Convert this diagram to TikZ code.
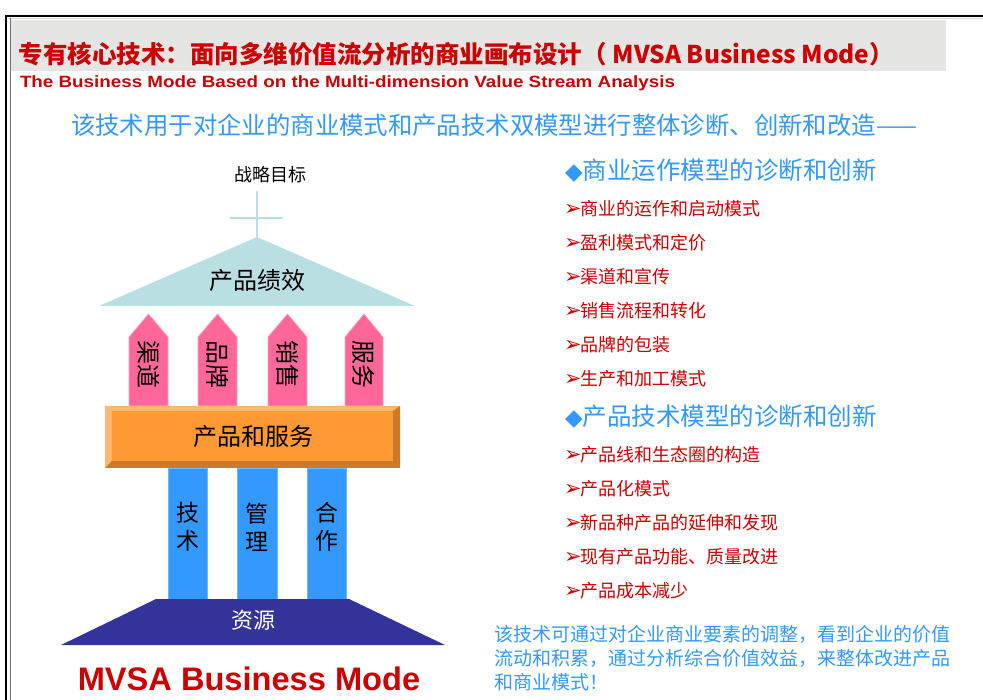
\documentclass[tikz,border=0pt]{standalone}
\usepackage{fontspec}
\newfontfamily\cjk{Noto Sans CJK SC}
\newfontfamily\lib{Liberation Sans}
\newfontfamily\dej{DejaVu Sans}
\definecolor{tred}{HTML}{CC0000}
\definecolor{tblue}{HTML}{3399FF}
\definecolor{roofc}{HTML}{B9DFE3}
\definecolor{pinkc}{HTML}{FF6699}
\definecolor{orangec}{HTML}{FF9933}
\definecolor{orangel}{HTML}{FFB870}
\definecolor{oranged}{HTML}{CC7A29}
\definecolor{navyc}{HTML}{333399}
\definecolor{grayboxc}{HTML}{E5E5E3}
\tikzset{
  txt/.style={inner sep=0pt, outer sep=0pt},
  pinkarrow/.style={fill=pinkc, draw=pinkc!60, line width=0.8pt},
  pillar/.style={fill=tblue, draw=tblue!70, line width=0.6pt},
  item/.style={txt, anchor=west, text=tred, font=\cjk\fontsize{18}{18}\selectfont},
  head/.style={txt, anchor=west, text=tblue, font=\cjk\fontsize{24.5}{24.5}\selectfont},
  archtext/.style={txt, text=black, font=\cjk\fontsize{23}{23}\selectfont},
}
\newcommand{\bul}{{\dej\fontsize{21}{21}\selectfont ➢}}
\newcommand{\dia}{{\dej\fontsize{23}{23}\selectfont ◆}}
\begin{document}
\begin{tikzpicture}[x=1pt,y=-1pt]
\useasboundingbox (0,0) rectangle (983,700);
% frame
\fill[grayboxc] (11,20) rectangle (946,71);
\draw[black, line width=2.5pt] (5,16) -- (983,16);
\draw[black!15, line width=0.6pt] (8,18.5) -- (983,18.5);
\draw[black, line width=2pt] (6,15) -- (6,700);
\draw[black!55, line width=1.2pt] (10.5,18) -- (10.5,700);
% title
\node[txt, anchor=west, text=tred, font=\cjk\bfseries\fontsize{24.5}{24.5}\selectfont] (title) at (19,54) {专有核心技术：面向多维价值流分析的商业画布设计（ MVSA Business Mode）};
\node[txt, anchor=base west, text=tred, font=\lib\bfseries\fontsize{16}{16}\selectfont] (subtitle) at (20,87.5) {\scalebox{1.175}[1.02]{The Business Mode Based on the Multi-dimension Value Stream Analysis}};
\node[txt, anchor=west, text=tblue, font=\cjk\fontsize{24.4}{24.4}\selectfont] (intro) at (71,125) {该技术用于对企业的商业模式和产品技术双模型进行整体诊断、创新和改造——};
% house diagram
\node[txt, text=black, font=\cjk\fontsize{18}{18}\selectfont] (goal) at (270,175) {战略目标};
\coordinate (ctop) at (257,191);
\coordinate (apex) at (257,237);
\coordinate (cl) at (230,218);
\coordinate (cr) at (283,218);
\draw[roofc, line width=2pt] (ctop) -- (apex);
\draw[roofc, line width=2pt] (cl) -- (cr);
\fill[roofc] (apex) -- (415,306) -- (99,306) -- cycle;
\node[archtext, font=\cjk\fontsize{24}{24}\selectfont] (perf) at (257,280) {产品绩效};
% pink arrows
\foreach \xl/\xr/\t/\n in {129/168/渠道/a1, 198/237/品牌/a2, 268/307/销售/a3, 345/383/服务/a4}{
  \draw[pinkarrow] (\xl,406) -- (\xl,337) -- ({(\xl+\xr)/2},314) -- (\xr,337) -- (\xr,406) -- cycle;
  \node[archtext, rotate=-90, font=\cjk\fontsize{24}{24}\selectfont] (\n) at ({(\xl+\xr)/2},365) {\t};
}
% orange bevel box
\fill[orangec] (105,406) rectangle (400,468);
\fill[orangel] (105,406) -- (400,406) -- (393,411) -- (112,411) -- (112,461) -- (105,468) -- cycle;
\fill[oranged] (400,406) -- (400,468) -- (105,468) -- (112,461) -- (393,461) -- (393,411) -- cycle;
\fill[orangec] (112,411) rectangle (393,461);
\node[archtext, font=\cjk\fontsize{24}{24}\selectfont] (ps) at (253,436) {产品和服务};
% pillars
\draw[pillar] (168,468) rectangle (207,599);
\draw[pillar] (237,468) rectangle (277,599);
\draw[pillar] (307,468) rectangle (346,599);
\node[archtext, align=center, font=\cjk\fontsize{23}{28}\selectfont] (p1) at (187.5,527) {技\\术};
\node[archtext, align=center, font=\cjk\fontsize{23}{28}\selectfont] (p2) at (257,527) {管\\理};
\node[archtext, align=center, font=\cjk\fontsize{23}{28}\selectfont] (p3) at (326.5,527) {合\\作};
% base
\fill[navyc] (156,599) -- (349,599) -- (445,645) -- (61,645) -- cycle;
\node[archtext, text=white, font=\cjk\fontsize{22}{22}\selectfont] (res) at (253,620) {资源};
\node[txt, anchor=base, text=tred, font=\lib\bfseries\fontsize{32.6}{32.6}\selectfont] (mvsa) at (249,690) {MVSA Business Mode};
% right column
\node[head] (h1) at (565,171) {\dia 商业运作模型的诊断和创新};
\node[item] (i1) at (564,209) {\bul\hspace{-1pt}商业的运作和启动模式};
\node[item] (i2) at (564,243) {\bul\hspace{-1pt}盈利模式和定价};
\node[item] (i3) at (564,277) {\bul\hspace{-1pt}渠道和宣传};
\node[item] (i4) at (564,311) {\bul\hspace{-1pt}销售流程和转化};
\node[item] (i5) at (564,345) {\bul\hspace{-1pt}品牌的包装};
\node[item] (i6) at (564,379) {\bul\hspace{-1pt}生产和加工模式};
\node[head] (h2) at (565,417) {\dia 产品技术模型的诊断和创新};
\node[item] (j1) at (564,455) {\bul\hspace{-1pt}产品线和生态圈的构造};
\node[item] (j2) at (564,489) {\bul\hspace{-1pt}产品化模式};
\node[item] (j3) at (564,523) {\bul\hspace{-1pt}新品种产品的延伸和发现};
\node[item] (j4) at (564,557) {\bul\hspace{-1pt}现有产品功能、质量改进};
\node[item] (j5) at (564,591) {\bul\hspace{-1pt}产品成本减少};
\node[txt, anchor=north west, text=tblue, align=left, font=\cjk\fontsize{19}{24}\selectfont] (para) at (494,625) {该技术可通过对企业商业要素的调整，看到企业的价值\\流动和积累，通过分析综合价值效益，来整体改进产品\\和商业模式！};
\end{tikzpicture}
\end{document}
